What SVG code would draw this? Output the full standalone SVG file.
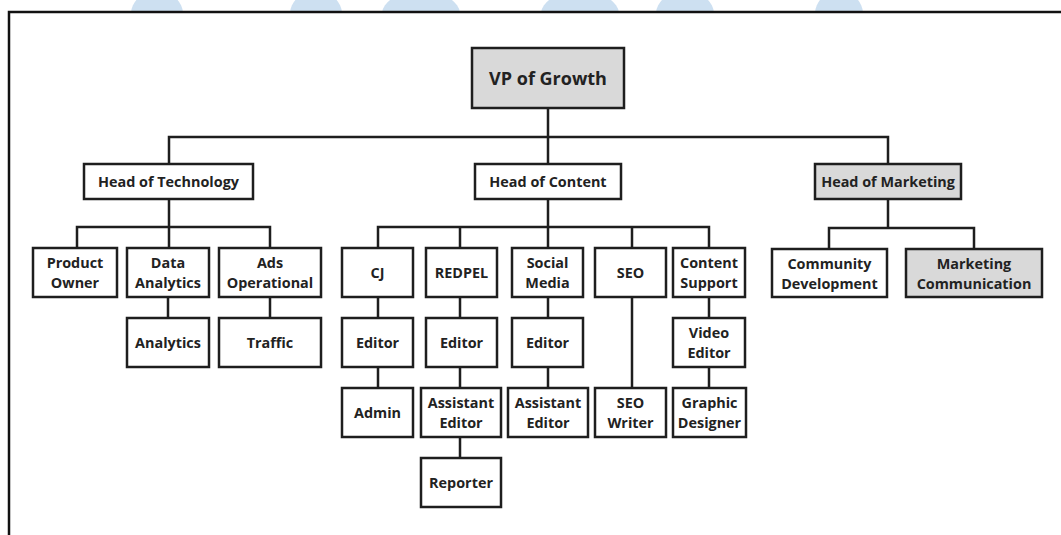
<svg xmlns="http://www.w3.org/2000/svg" width="1061" height="535" viewBox="0 0 1061 535">
  <style>
    .box { fill: #ffffff; stroke: #1e1e1e; stroke-width: 2.5; }
    .box.shade { fill: #d9d9d9; }
    .lbl { font-family: "Open Sans", "Liberation Sans", sans-serif; font-weight: 700; font-size: 14.4px; fill: #222222; text-anchor: middle; }
    .lbl.big { font-size: 18px; }
    .wire { fill: none; stroke: #1e1e1e; stroke-width: 2.5; stroke-linecap: square; }
    .frame { fill: none; stroke: #111111; stroke-width: 2.5; }
    .dome { fill: #cde0f1; }
  </style>
  <defs>
    <clipPath id="topband"><rect x="0" y="0" width="1061" height="11.5"/></clipPath>
  </defs>

  <rect width="1061" height="535" fill="#ffffff"/>

  <!-- decorative domes along the top edge -->
  <g clip-path="url(#topband)">
    <ellipse class="dome" cx="157" cy="14" rx="26" ry="23"/>
    <ellipse class="dome" cx="316" cy="14" rx="26" ry="23"/>
    <ellipse class="dome" cx="421" cy="14" rx="39" ry="23"/>
    <ellipse class="dome" cx="580" cy="14" rx="39" ry="23"/>
    <ellipse class="dome" cx="685" cy="14" rx="29" ry="23"/>
    <ellipse class="dome" cx="839" cy="14" rx="24" ry="23"/>
  </g>

  <!-- page frame -->
  <path class="frame" d="M1061,12 H9 V535"/>

  <!-- connectors -->
  <g id="connectors">
    <!-- VP level -->
    <path class="wire" d="M548,108 V164 M169,164 V137 H888 V164"/>
    <!-- technology branch -->
    <path class="wire" d="M169,199 V248 M77,248 V227 H270 V248"/>
    <path class="wire" d="M168,297 V318 M270,297 V318"/>
    <!-- content branch -->
    <path class="wire" d="M548,199 V248 M378,248 V227 H709 V248 M460,227 V248 M632,227 V248"/>
    <path class="wire" d="M378,297 V318 M378,367 V388"/>
    <path class="wire" d="M460,297 V318 M460,367 V388 M460,437 V458"/>
    <path class="wire" d="M548,297 V318 M548,367 V388"/>
    <path class="wire" d="M632,297 V388"/>
    <path class="wire" d="M709,297 V318 M709,367 V388"/>
    <!-- marketing branch -->
    <path class="wire" d="M888,199 V228 M829,249 V228 H974 V249"/>
  </g>

  <!-- nodes -->
  <g id="vp-growth">
    <rect class="box shade" x="472" y="48" width="152" height="60"/>
    <text class="lbl big" x="548" y="84.5">VP of Growth</text>
  </g>

  <g id="head-technology">
    <rect class="box" x="84" y="164" width="169" height="35"/>
    <text class="lbl" x="168.5" y="186.7">Head of Technology</text>
  </g>
  <g id="head-content">
    <rect class="box" x="475" y="164" width="146" height="35"/>
    <text class="lbl" x="548" y="186.7">Head of Content</text>
  </g>
  <g id="head-marketing">
    <rect class="box shade" x="815" y="164" width="146" height="35"/>
    <text class="lbl" x="888" y="186.7">Head of Marketing</text>
  </g>

  <g id="product-owner">
    <rect class="box" x="33" y="248" width="84" height="49"/>
    <text class="lbl" x="75" y="268"><tspan x="75">Product</tspan><tspan x="75" dy="20">Owner</tspan></text>
  </g>
  <g id="data-analytics">
    <rect class="box" x="127" y="248" width="82" height="49"/>
    <text class="lbl" x="168" y="268"><tspan x="168">Data</tspan><tspan x="168" dy="20">Analytics</tspan></text>
  </g>
  <g id="ads-operational">
    <rect class="box" x="219" y="248" width="102" height="49"/>
    <text class="lbl" x="270" y="268"><tspan x="270">Ads</tspan><tspan x="270" dy="20">Operational</tspan></text>
  </g>
  <g id="analytics">
    <rect class="box" x="127" y="318" width="82" height="49"/>
    <text class="lbl" x="168" y="347.7">Analytics</text>
  </g>
  <g id="traffic">
    <rect class="box" x="219" y="318" width="102" height="49"/>
    <text class="lbl" x="270" y="347.7">Traffic</text>
  </g>

  <g id="cj">
    <rect class="box" x="342" y="248" width="71" height="49"/>
    <text class="lbl" x="377.5" y="277.7">CJ</text>
  </g>
  <g id="redpel">
    <rect class="box" x="426" y="248" width="71" height="49"/>
    <text class="lbl" x="461.5" y="277.7">REDPEL</text>
  </g>
  <g id="social-media">
    <rect class="box" x="512" y="248" width="71" height="49"/>
    <text class="lbl" x="547.5" y="268"><tspan x="547.5">Social</tspan><tspan x="547.5" dy="20">Media</tspan></text>
  </g>
  <g id="seo">
    <rect class="box" x="595" y="248" width="71" height="49"/>
    <text class="lbl" x="630.5" y="277.7">SEO</text>
  </g>
  <g id="content-support">
    <rect class="box" x="673" y="248" width="72" height="49"/>
    <text class="lbl" x="709" y="268"><tspan x="709">Content</tspan><tspan x="709" dy="20">Support</tspan></text>
  </g>

  <g id="cj-editor">
    <rect class="box" x="342" y="318" width="71" height="49"/>
    <text class="lbl" x="377.5" y="347.7">Editor</text>
  </g>
  <g id="redpel-editor">
    <rect class="box" x="426" y="318" width="71" height="49"/>
    <text class="lbl" x="461.5" y="347.7">Editor</text>
  </g>
  <g id="social-editor">
    <rect class="box" x="512" y="318" width="71" height="49"/>
    <text class="lbl" x="547.5" y="347.7">Editor</text>
  </g>
  <g id="video-editor">
    <rect class="box" x="673" y="318" width="72" height="49"/>
    <text class="lbl" x="709" y="338"><tspan x="709">Video</tspan><tspan x="709" dy="20">Editor</tspan></text>
  </g>

  <g id="admin">
    <rect class="box" x="342" y="388" width="71" height="49"/>
    <text class="lbl" x="377.5" y="417.7">Admin</text>
  </g>
  <g id="redpel-assistant-editor">
    <rect class="box" x="421" y="388" width="80" height="49"/>
    <text class="lbl" x="461" y="408"><tspan x="461">Assistant</tspan><tspan x="461" dy="20">Editor</tspan></text>
  </g>
  <g id="social-assistant-editor">
    <rect class="box" x="508" y="388" width="80" height="49"/>
    <text class="lbl" x="548" y="408"><tspan x="548">Assistant</tspan><tspan x="548" dy="20">Editor</tspan></text>
  </g>
  <g id="seo-writer">
    <rect class="box" x="595" y="388" width="71" height="49"/>
    <text class="lbl" x="630.5" y="408"><tspan x="630.5">SEO</tspan><tspan x="630.5" dy="20">Writer</tspan></text>
  </g>
  <g id="graphic-designer">
    <rect class="box" x="673" y="388" width="73" height="49"/>
    <text class="lbl" x="709.5" y="408"><tspan x="709.5">Graphic</tspan><tspan x="709.5" dy="20">Designer</tspan></text>
  </g>

  <g id="reporter">
    <rect class="box" x="421" y="458" width="80" height="49"/>
    <text class="lbl" x="461" y="487.7">Reporter</text>
  </g>

  <g id="community-development">
    <rect class="box" x="772" y="249" width="115" height="48"/>
    <text class="lbl" x="829.5" y="268.5"><tspan x="829.5">Community</tspan><tspan x="829.5" dy="20">Development</tspan></text>
  </g>
  <g id="marketing-communication">
    <rect class="box shade" x="906" y="249" width="136" height="48"/>
    <text class="lbl" x="974" y="268.5"><tspan x="974">Marketing</tspan><tspan x="974" dy="20">Communication</tspan></text>
  </g>
</svg>
